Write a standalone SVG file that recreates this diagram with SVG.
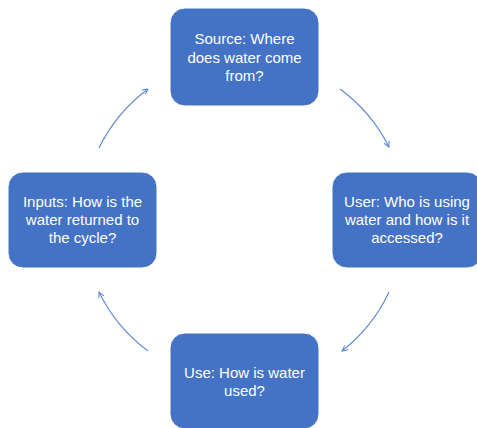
<svg xmlns="http://www.w3.org/2000/svg" width="477" height="428" viewBox="0 0 477 428">
<style>
.box{fill:#4472C4;stroke:#ffffff;stroke-width:1}
.lbl{font-family:"Liberation Sans",Arial,sans-serif;font-size:15px;fill:#ffffff;text-anchor:middle}
.arc{fill:none;stroke:#5B86D0;stroke-width:1.1;marker-end:url(#ah)}
</style>
<defs>
<marker id="ah" viewBox="0 0 10 10" refX="9" refY="5" markerWidth="7" markerHeight="7" markerUnits="userSpaceOnUse" orient="auto">
<path d="M1,1 L9,5 L1,9" fill="none" stroke="#5B86D0" stroke-width="1.4"/>
</marker>
</defs>
<rect width="477" height="428" fill="#ffffff"/>
<g id="connectors">
<path class="arc" d="M340,89 A162,162 0 0 1 389,147"/>
<path class="arc" d="M389,292 A162,162 0 0 1 342,351"/>
<path class="arc" d="M148,351 A162,162 0 0 1 99,292"/>
<path class="arc" d="M99,148 A162,162 0 0 1 148,89"/>
</g>
<g id="source">
<rect class="box" x="170" y="8" width="149" height="98" rx="15"/>
<text class="lbl" x="244.5" y="44">Source: Where</text>
<text class="lbl" x="244.5" y="62.5">does water come</text>
<text class="lbl" x="244.5" y="81">from?</text>
</g>
<g id="user">
<rect class="box" x="332" y="172" width="150" height="96" rx="15"/>
<text class="lbl" x="407" y="207">User: Who is using</text>
<text class="lbl" x="407" y="225">water and how is it</text>
<text class="lbl" x="407" y="243">accessed?</text>
</g>
<g id="use">
<rect class="box" x="170" y="333" width="149" height="96" rx="15"/>
<text class="lbl" x="244.5" y="378">Use: How is water</text>
<text class="lbl" x="244.5" y="396">used?</text>
</g>
<g id="inputs">
<rect class="box" x="8" y="172" width="149" height="96" rx="15"/>
<text class="lbl" x="82.5" y="207">Inputs: How is the</text>
<text class="lbl" x="82.5" y="225">water returned to</text>
<text class="lbl" x="82.5" y="243">the cycle?</text>
</g>
</svg>
